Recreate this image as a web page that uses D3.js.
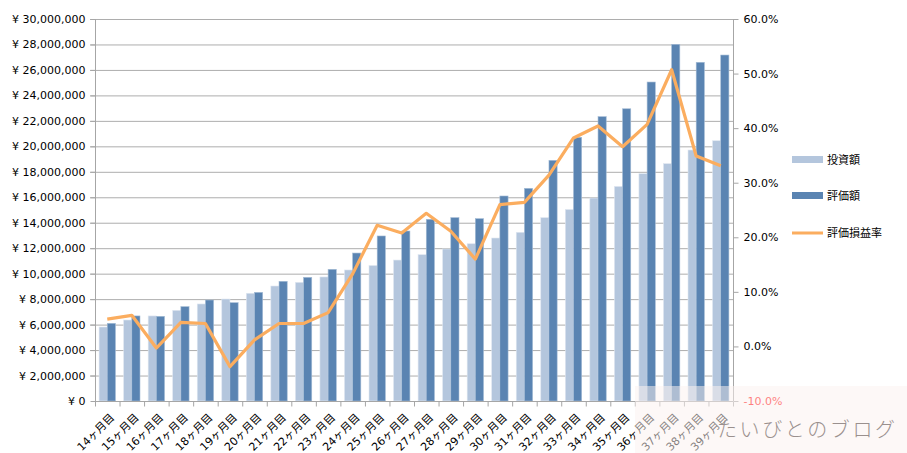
<!DOCTYPE html>
<html>
<head>
<meta charset="utf-8">
<script src="https://cdn.jsdelivr.net/npm/d3@7"></script>
<style>
  html, body { margin: 0; padding: 0; background: #fff; }
  svg { display: block; font-family: "DejaVu Sans", "Noto Sans CJK JP", sans-serif; }
</style>
</head>
<body>
<svg id="chart" width="907" height="453"></svg>
<script>
// ---- data ----
const months = ["14ヶ月目","15ヶ月目","16ヶ月目","17ヶ月目","18ヶ月目","19ヶ月目","20ヶ月目","21ヶ月目","22ヶ月目","23ヶ月目","24ヶ月目","25ヶ月目","26ヶ月目","27ヶ月目","28ヶ月目","29ヶ月目","30ヶ月目","31ヶ月目","32ヶ月目","33ヶ月目","34ヶ月目","35ヶ月目","36ヶ月目","37ヶ月目","38ヶ月目","39ヶ月目"];
const invested = [5810000,6360000,6680000,7120000,7620000,8010000,8460000,9030000,9320000,9740000,10290000,10640000,11070000,11490000,11940000,12350000,12800000,13250000,14400000,15040000,15940000,16850000,17850000,18640000,19710000,20440000];
const valuation = [6100000,6680000,6650000,7410000,7930000,7720000,8530000,9400000,9710000,10340000,11620000,12960000,13350000,14270000,14400000,14320000,16100000,16700000,18900000,20710000,22330000,22950000,25050000,28010000,26600000,27170000];
const returnRate = [0.050,0.057,-0.003,0.044,0.042,-0.037,0.012,0.042,0.042,0.062,0.133,0.222,0.208,0.244,0.211,0.160,0.260,0.264,0.314,0.382,0.404,0.366,0.407,0.507,0.349,0.331];
const leftTicks = d3.range(0, 30000001, 2000000);
const rightTicks = [-0.1, 0, 0.1, 0.2, 0.3, 0.4, 0.5, 0.6];
const seriesNames = ["投資額", "評価額", "評価損益率"];
const watermarkText = "たいびとのブログ";

// ---- layout ----
const svg = d3.select("#chart");
const L = 95, R = 733, T = 19, B = 401;
const axisColor = "#a6a6a6", gridColor = "#adadad";
const cLight = "#b4c6dd", cDark = "#5a84b2", cLine = "#fbad5f";

const x = d3.scaleBand().domain(months).range([L, R]).paddingInner(0).paddingOuter(0);
const sub = d3.scaleBand().domain(["inv", "val"]).range([0, x.bandwidth()]).paddingInner(0).paddingOuter(0.5);
const y = d3.scaleLinear().domain([0, 30000000]).range([B, T]);
const y2 = d3.scaleLinear().domain([-0.1, 0.6]).range([B, T]);

const loc = d3.formatLocale({decimal: ".", thousands: ",", grouping: [3], currency: ["", ""], minus: "-"});
const fmtYen = v => "¥ " + loc.format(",")(v);
const fmtPct = loc.format(".1%");

// gridlines
svg.append("g").selectAll("line").data(leftTicks.filter(d => d > 0)).join("line")
  .attr("x1", L - 5).attr("x2", R).attr("y1", d => y(d) + 0.5).attr("y2", d => y(d) + 0.5)
  .attr("stroke", gridColor).attr("stroke-width", 1);

// bars
const g = svg.append("g");
g.selectAll("rect.inv").data(months).join("rect").attr("class", "inv")
  .attr("x", (d) => x(d) + sub("inv")).attr("width", sub.bandwidth())
  .attr("y", (d, i) => y(invested[i])).attr("height", (d, i) => B - y(invested[i]))
  .attr("fill", cLight).attr("stroke", "#dfe7f1").attr("stroke-width", 0.6);
g.selectAll("rect.val").data(months).join("rect").attr("class", "val")
  .attr("x", (d) => x(d) + sub("val")).attr("width", sub.bandwidth())
  .attr("y", (d, i) => y(valuation[i])).attr("height", (d, i) => B - y(valuation[i]))
  .attr("fill", cDark).attr("stroke", "#a3bbd5").attr("stroke-width", 0.6);

// line
const line = d3.line().x((d, i) => x(months[i]) + x.bandwidth() / 2).y(d => y2(d));
svg.append("path").datum(returnRate).attr("d", line)
  .attr("fill", "none").attr("stroke", cLine).attr("stroke-width", 3.2)
  .attr("stroke-linejoin", "round").attr("stroke-linecap", "butt");

// left axis
const ax = svg.append("g").attr("transform", `translate(${L + 0.5},0)`)
  .call(d3.axisLeft(y).tickValues(leftTicks).tickFormat(fmtYen).tickSize(5).tickPadding(5));
// right axis
const ax2 = svg.append("g").attr("transform", `translate(${R + 0.5},0)`)
  .call(d3.axisRight(y2).tickValues(rightTicks).tickFormat(fmtPct).tickSize(5).tickPadding(5));
// bottom axis
const ax3 = svg.append("g").attr("transform", `translate(0,${B + 0.5})`)
  .call(d3.axisBottom(x).tickSize(0).tickFormat(d => d));
ax3.selectAll(".tick text")
  .attr("text-anchor", "end")
  .attr("transform", "translate(1,10) rotate(-45)")
  .attr("dy", "0.6em").attr("dx", "0");
// band boundary ticks
ax3.append("g").selectAll("line").data(d3.range(months.length + 1)).join("line")
  .attr("x1", i => L + i * x.step() + 0.5).attr("x2", i => L + i * x.step() + 0.5)
  .attr("y1", 0).attr("y2", 5).attr("stroke", axisColor);

[ax, ax2, ax3].forEach(a => {
  a.select(".domain").attr("stroke", axisColor);
  a.selectAll(".tick line").attr("stroke", axisColor);
  a.selectAll(".tick text").attr("fill", "#000").attr("font-size", 11)
    .attr("font-family", "'DejaVu Sans', 'Noto Sans CJK JP', sans-serif");
});
ax.select(".domain").attr("d", `M0,${B}V${T}`);
ax2.select(".domain").attr("d", `M0,${B}V${T}`);
ax3.select(".domain").attr("d", `M${L},0H${R}`);
ax2.selectAll(".tick text").filter(d => d < 0).attr("fill", "#ff0000");

// legend
const lg = svg.append("g");
const legendY = [159.5, 195.5, 233];
seriesNames.forEach((name, i) => {
  if (i < 2) {
    lg.append("rect").attr("x", 792).attr("y", legendY[i] - 3.5).attr("width", 31).attr("height", 7)
      .attr("fill", i === 0 ? cLight : cDark);
  } else {
    lg.append("line").attr("x1", 792).attr("x2", 823).attr("y1", legendY[i]).attr("y2", legendY[i])
      .attr("stroke", cLine).attr("stroke-width", 3);
  }
  lg.append("text").attr("x", 827).attr("y", legendY[i]).attr("dy", "0.38em")
    .attr("font-size", 11).attr("fill", "#000").text(name);
});

// watermark overlay
svg.append("rect").attr("x", 635).attr("y", 386).attr("width", 272).attr("height", 67)
  .attr("fill", "#fbf1ef").attr("opacity", 0.52);
svg.append("text").attr("x", 717).attr("y", 437).attr("font-size", 20)
  .attr("letter-spacing", 2.6).attr("fill", "#9a908e")
  .attr("font-family", "'Noto Sans CJK JP', sans-serif").attr("font-weight", 300)
  .text(watermarkText);
</script>
</body>
</html>
